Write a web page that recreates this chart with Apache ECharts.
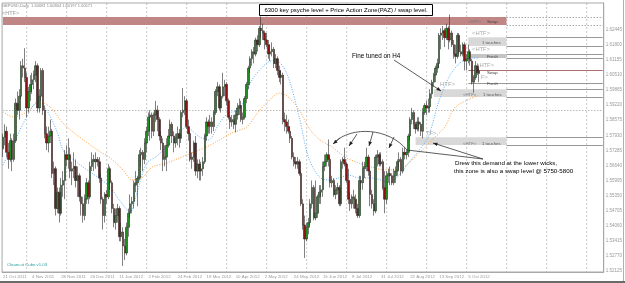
<!DOCTYPE html>
<html><head><meta charset="utf-8">
<script src="https://cdn.jsdelivr.net/npm/echarts@6/dist/echarts.min.js"></script>
<style>html,body{margin:0;padding:0;background:#fff;}#c{width:625px;height:283px;}</style>
</head><body><div id="c"></div>
<script>
// ---- data ----
const dateLabels = ["21 Oct 2011","4 Nov 2011","28 Nov 2011","20 Dec 2011","11 Jan 2012","2 Feb 2012","24 Feb 2012","19 Mar 2012","10 Apr 2012","2 May 2012","24 May 2012","15 Jun 2012","9 Jul 2012","31 Jul 2012","22 Aug 2012","13 Sep 2012","5 Oct 2012"];
const priceTicks = [1.62445,1.61800,1.61155,1.60510,1.59865,1.59220,1.58575,1.57930,1.57285,1.56640,1.55995,1.55350,1.54705,1.54060,1.53415,1.52770,1.52125];
const markedLevels = [1.62985,1.62650,1.60571,1.59000];
// [open, close, low, high]
const candles = [
[1.5735,1.5785,1.5700,1.5800],[1.5785,1.5810,1.5750,1.5840],[1.5810,1.5720,1.5700,1.5830],[1.5720,1.5690,1.5650,1.5760],[1.5690,1.5770,1.5680,1.5800],
[1.5770,1.5690,1.5640,1.5780],[1.5690,1.5770,1.5680,1.5800],[1.5770,1.5930,1.5760,1.5950],[1.5930,1.5900,1.5880,1.5980],[1.5900,1.5960,1.5860,1.5990],
[1.5960,1.6090,1.5950,1.6110],[1.6090,1.6080,1.6040,1.6120],[1.6080,1.6040,1.6020,1.6165],[1.6040,1.5910,1.5870,1.6060],[1.5910,1.5980,1.5890,1.6000],
[1.5980,1.6010,1.5940,1.6050],[1.6010,1.6030,1.5970,1.6060],[1.6030,1.6050,1.5990,1.6070],[1.6050,1.6090,1.6020,1.6110],[1.6090,1.5910,1.5890,1.6100],
[1.5910,1.5960,1.5890,1.5990],[1.5960,1.6070,1.5940,1.6080],[1.6070,1.5900,1.5880,1.6080],[1.5900,1.5800,1.5780,1.5920],[1.5800,1.5760,1.5730,1.5830],
[1.5760,1.5790,1.5720,1.5830],[1.5790,1.5810,1.5760,1.5860],[1.5810,1.5630,1.5610,1.5820],[1.5630,1.5650,1.5580,1.5680],[1.5650,1.5480,1.5450,1.5660],
[1.5480,1.5550,1.5460,1.5570],[1.5550,1.5460,1.5420,1.5570],[1.5460,1.5580,1.5450,1.5610],[1.5580,1.5600,1.5530,1.5640],[1.5600,1.5710,1.5520,1.5730],
[1.5710,1.5690,1.5660,1.5750],[1.5690,1.5710,1.5650,1.5780],[1.5710,1.5640,1.5610,1.5740],[1.5640,1.5650,1.5580,1.5680],[1.5650,1.5660,1.5610,1.5720],
[1.5660,1.5600,1.5570,1.5690],[1.5600,1.5620,1.5530,1.5660],[1.5620,1.5530,1.5510,1.5630],[1.5530,1.5500,1.5450,1.5560],[1.5500,1.5450,1.5420,1.5530],
[1.5450,1.5520,1.5430,1.5540],[1.5520,1.5590,1.5500,1.5610],[1.5590,1.5530,1.5500,1.5600],[1.5530,1.5660,1.5520,1.5680],[1.5660,1.5690,1.5640,1.5720],
[1.5690,1.5680,1.5640,1.5710],[1.5680,1.5690,1.5650,1.5720],[1.5690,1.5680,1.5660,1.5700],[1.5680,1.5610,1.5590,1.5700],[1.5610,1.5520,1.5500,1.5630],
[1.5520,1.5450,1.5390,1.5530],[1.5450,1.5540,1.5420,1.5550],[1.5540,1.5530,1.5500,1.5560],[1.5530,1.5650,1.5520,1.5670],[1.5650,1.5590,1.5560,1.5660],
[1.5590,1.5480,1.5460,1.5600],[1.5480,1.5420,1.5400,1.5500],[1.5420,1.5450,1.5390,1.5480],[1.5450,1.5480,1.5420,1.5500],[1.5480,1.5360,1.5340,1.5490],
[1.5360,1.5380,1.5340,1.5420],[1.5380,1.5320,1.5235,1.5400],[1.5320,1.5290,1.5260,1.5350],[1.5290,1.5400,1.5280,1.5420],[1.5400,1.5460,1.5360,1.5480],
[1.5460,1.5500,1.5440,1.5540],[1.5500,1.5510,1.5460,1.5530],[1.5510,1.5580,1.5480,1.5600],[1.5580,1.5590,1.5550,1.5640],[1.5590,1.5610,1.5490,1.5620],
[1.5610,1.5710,1.5600,1.5730],[1.5710,1.5720,1.5660,1.5740],[1.5720,1.5690,1.5640,1.5730],[1.5690,1.5760,1.5670,1.5780],[1.5760,1.5810,1.5720,1.5830],
[1.5810,1.5870,1.5790,1.5890],[1.5870,1.5880,1.5770,1.5900],[1.5880,1.5810,1.5780,1.5890],[1.5810,1.5880,1.5790,1.5890],[1.5880,1.5900,1.5850,1.5940],
[1.5900,1.5860,1.5810,1.5920],[1.5860,1.5790,1.5770,1.5870],[1.5790,1.5760,1.5730,1.5810],[1.5760,1.5690,1.5640,1.5780],[1.5690,1.5700,1.5660,1.5750],
[1.5700,1.5750,1.5640,1.5780],[1.5750,1.5790,1.5740,1.5820],[1.5790,1.5840,1.5780,1.5860],[1.5840,1.5790,1.5760,1.5850],[1.5790,1.5760,1.5720,1.5810],
[1.5760,1.5780,1.5740,1.5800],[1.5780,1.5800,1.5750,1.5830],[1.5800,1.5780,1.5740,1.5820],[1.5780,1.5890,1.5760,1.5900],[1.5890,1.5900,1.5870,1.5995],
[1.5900,1.5940,1.5880,1.5960],[1.5940,1.5830,1.5820,1.5950],[1.5830,1.5800,1.5770,1.5860],[1.5800,1.5690,1.5680,1.5810],[1.5690,1.5700,1.5650,1.5720],
[1.5700,1.5760,1.5680,1.5770],[1.5760,1.5640,1.5620,1.5790],[1.5640,1.5670,1.5610,1.5690],[1.5670,1.5640,1.5600,1.5690],[1.5640,1.5650,1.5600,1.5680],
[1.5650,1.5680,1.5620,1.5700],[1.5680,1.5790,1.5670,1.5800],[1.5790,1.5850,1.5770,1.5870],[1.5850,1.5830,1.5800,1.5860],[1.5830,1.5850,1.5800,1.5880],
[1.5850,1.5830,1.5800,1.5870],[1.5830,1.5890,1.5810,1.5900],[1.5890,1.5980,1.5880,1.5990],[1.5980,1.6000,1.5960,1.6020],[1.6000,1.5910,1.5900,1.6010],
[1.5910,1.5960,1.5890,1.5970],[1.5960,1.6000,1.5950,1.6060],[1.6000,1.6010,1.5960,1.6030],[1.6010,1.5940,1.5920,1.6020],[1.5940,1.5870,1.5860,1.5950],
[1.5870,1.5850,1.5820,1.5880],[1.5850,1.5860,1.5830,1.5880],[1.5860,1.5840,1.5820,1.5880],[1.5840,1.5880,1.5805,1.5900],[1.5880,1.5910,1.5860,1.5930],
[1.5910,1.5920,1.5880,1.5950],[1.5920,1.5860,1.5850,1.5940],[1.5860,1.5870,1.5840,1.5890],[1.5870,1.5950,1.5860,1.5960],[1.5950,1.6010,1.5930,1.6020],
[1.6010,1.6080,1.5990,1.6090],[1.6080,1.6120,1.6060,1.6130],[1.6120,1.6150,1.6090,1.6160],[1.6150,1.6140,1.6100,1.6170],[1.6140,1.6200,1.6130,1.6210],
[1.6200,1.6180,1.6150,1.6220],[1.6180,1.6250,1.6170,1.6260],[1.6250,1.6240,1.6210,1.6301],[1.6240,1.6230,1.6200,1.6270],[1.6230,1.6200,1.6160,1.6240],
[1.6200,1.6180,1.6170,1.6230],[1.6180,1.6140,1.6120,1.6200],[1.6140,1.6150,1.6110,1.6180],[1.6150,1.6160,1.6130,1.6190],[1.6160,1.6100,1.6080,1.6170],
[1.6100,1.6120,1.6080,1.6140],[1.6120,1.6070,1.6050,1.6130],[1.6070,1.6040,1.6020,1.6090],[1.6040,1.6050,1.6010,1.6070],[1.6050,1.5860,1.5840,1.6060],
[1.5860,1.5850,1.5810,1.5890],[1.5850,1.5830,1.5800,1.5880],[1.5830,1.5810,1.5800,1.5860],[1.5810,1.5780,1.5760,1.5830],[1.5780,1.5700,1.5690,1.5790],
[1.5700,1.5680,1.5660,1.5720],[1.5680,1.5670,1.5650,1.5700],[1.5670,1.5680,1.5650,1.5700],[1.5680,1.5630,1.5620,1.5690],[1.5630,1.5500,1.5490,1.5640],
[1.5500,1.5410,1.5390,1.5520],[1.5410,1.5350,1.5269,1.5450],[1.5350,1.5400,1.5340,1.5420],[1.5400,1.5420,1.5370,1.5440],[1.5420,1.5500,1.5410,1.5520],
[1.5500,1.5570,1.5480,1.5600],[1.5570,1.5440,1.5430,1.5580],[1.5440,1.5460,1.5430,1.5600],[1.5460,1.5530,1.5440,1.5540],[1.5530,1.5550,1.5500,1.5580],
[1.5550,1.5560,1.5500,1.5580],[1.5560,1.5660,1.5530,1.5680],[1.5660,1.5680,1.5640,1.5710],[1.5680,1.5710,1.5660,1.5720],[1.5710,1.5690,1.5660,1.5775],
[1.5690,1.5590,1.5570,1.5700],[1.5590,1.5600,1.5570,1.5620],[1.5600,1.5540,1.5530,1.5610],[1.5540,1.5560,1.5520,1.5580],[1.5560,1.5570,1.5540,1.5590],
[1.5570,1.5500,1.5490,1.5580],[1.5500,1.5680,1.5490,1.5690],[1.5680,1.5690,1.5650,1.5700],[1.5690,1.5670,1.5660,1.5740],[1.5670,1.5600,1.5590,1.5680],
[1.5600,1.5520,1.5500,1.5650],[1.5520,1.5500,1.5470,1.5550],[1.5500,1.5530,1.5480,1.5540],[1.5530,1.5520,1.5480,1.5560],[1.5520,1.5480,1.5460,1.5540],
[1.5480,1.5450,1.5440,1.5500],[1.5450,1.5600,1.5440,1.5620],[1.5600,1.5590,1.5560,1.5620],[1.5590,1.5650,1.5560,1.5680],[1.5650,1.5660,1.5610,1.5680],
[1.5660,1.5700,1.5640,1.5740],[1.5700,1.5640,1.5620,1.5710],[1.5640,1.5540,1.5490,1.5650],[1.5540,1.5500,1.5480,1.5560],[1.5500,1.5470,1.5450,1.5520],
[1.5470,1.5700,1.5460,1.5710],[1.5700,1.5710,1.5660,1.5730],[1.5710,1.5670,1.5660,1.5720],[1.5670,1.5680,1.5660,1.5720],[1.5680,1.5570,1.5560,1.5690],
[1.5570,1.5520,1.5460,1.5640],[1.5520,1.5620,1.5500,1.5640],[1.5620,1.5630,1.5590,1.5650],[1.5630,1.5620,1.5580,1.5660],[1.5620,1.5590,1.5580,1.5630],
[1.5590,1.5620,1.5580,1.5650],[1.5620,1.5640,1.5590,1.5660],[1.5640,1.5680,1.5620,1.5690],[1.5680,1.5690,1.5650,1.5720],[1.5690,1.5640,1.5620,1.5700],
[1.5640,1.5720,1.5630,1.5740],[1.5720,1.5710,1.5690,1.5740],[1.5710,1.5720,1.5690,1.5730],[1.5720,1.5790,1.5700,1.5800],[1.5790,1.5860,1.5770,1.5870],
[1.5860,1.5890,1.5840,1.5910],[1.5890,1.5840,1.5820,1.5900],[1.5840,1.5820,1.5800,1.5850],[1.5820,1.5850,1.5810,1.5870],[1.5850,1.5840,1.5810,1.5870],
[1.5840,1.5810,1.5790,1.5850],[1.5810,1.5890,1.5780,1.5910],[1.5890,1.5920,1.5880,1.5930],[1.5920,1.5910,1.5880,1.5940],[1.5910,1.5915,1.5890,1.5950],
[1.5915,1.5970,1.5890,1.5990],[1.5970,1.6020,1.5950,1.6030],[1.6020,1.6050,1.6000,1.6060],[1.6050,1.6080,1.6020,1.6090],[1.6080,1.6100,1.6060,1.6120],
[1.6100,1.6220,1.6080,1.6230],[1.6220,1.6230,1.6160,1.6250],[1.6230,1.6240,1.6200,1.6260],[1.6240,1.6210,1.6170,1.6250],[1.6210,1.6250,1.6200,1.6270],
[1.6250,1.6200,1.6160,1.6260],[1.6200,1.6230,1.6190,1.6309],[1.6230,1.6180,1.6170,1.6240],[1.6180,1.6140,1.6120,1.6200],[1.6140,1.6130,1.6100,1.6180],
[1.6130,1.6220,1.6120,1.6230],[1.6220,1.6150,1.6140,1.6230],[1.6150,1.6140,1.6130,1.6180],[1.6140,1.6180,1.6130,1.6190],[1.6180,1.6110,1.6070,1.6190],
[1.6110,1.6120,1.6070,1.6140],[1.6120,1.6150,1.6100,1.6180],[1.6150,1.6110,1.6090,1.6160],[1.6110,1.6020,1.6010,1.6120],[1.6020,1.6040,1.5975,1.6050],
[1.6040,1.6090,1.6030,1.6110],[1.6090,1.6060,1.6050,1.6100],[1.60681,1.60571,1.60197,1.60804]
];
// moving averages: [bar index, price]
const fastMA = [[0,1.5666],[6,1.5760],[13,1.5871],[19,1.5935],[24,1.5901],[30,1.5803],[33,1.5730],[39,1.5687],[44,1.5657],[52,1.5615],[59,1.5572],[64,1.5516],[70,1.5465],[73,1.5529],[79,1.5674],[84,1.5700],[90,1.5743],[95,1.5786],[101,1.5828],[108,1.5786],[113,1.5773],[119,1.5845],[124,1.5888],[130,1.5901],[137,1.6029],[145,1.6101],[150,1.6114],[156,1.6059],[163,1.5871],[168,1.5700],[174,1.5615],[179,1.5602],[185,1.5611],[190,1.5623],[196,1.5611],[202,1.5611],[208,1.5602],[212,1.5590],[218,1.5623],[223,1.5674],[229,1.5730],[234,1.5786],[240,1.5943],[246,1.6050],[252,1.6106],[258,1.6123],[262,1.6123]];
const slowMA = [[0,1.5892],[6,1.5871],[13,1.5892],[20,1.5935],[26,1.5914],[33,1.5845],[42,1.5786],[52,1.5730],[59,1.5696],[66,1.5645],[71,1.5602],[77,1.5615],[82,1.5657],[90,1.5674],[97,1.5696],[104,1.5718],[112,1.5743],[119,1.5773],[126,1.5803],[134,1.5828],[140,1.5888],[145,1.5931],[152,1.5973],[157,1.5956],[163,1.5901],[168,1.5828],[174,1.5775],[181,1.5743],[188,1.5700],[196,1.5674],[203,1.5657],[210,1.5645],[216,1.5645],[222,1.5666],[229,1.5718],[236,1.5773],[243,1.5828],[249,1.5914],[262,1.5965]];
// zones: top price, bottom price, first bar, last bar
const zoneTop    = [1.6298,1.6212,1.6140,1.5990,1.5785];
const zoneBottom = [1.6264,1.6174,1.6123,1.5956,1.5751];
const zoneStart  = [0,256,256,237,227];
const zoneEnd    = 277;
const singleLevels = [1.6072,1.6017];  // swap / fresh lines
const levelStart = 256;
const TOTAL_SLOTS = 331;

// ---- build ----
const cats = [];
for (let i = 0; i < TOTAL_SLOTS; i++) cats.push(String(i));
const FONT = 'Liberation Sans';
const lastSlot = TOTAL_SLOTS - 1;

const areas = zoneTop.map((t, k) => {
  const band = k === 0;
  return [{xAxis: zoneStart[k], yAxis: t, itemStyle: {color: band ? '#c08585' : (k === 2 ? '#c4c4c4' : '#d8d8d8')}},
          {xAxis: zoneEnd, yAxis: zoneBottom[k]}];
});
const lines = [];
zoneTop.forEach((t, k) => {
  [t, zoneBottom[k]].forEach(p => {
    lines.push([{xAxis: zoneEnd, yAxis: p, lineStyle: {color: k === 0 ? '#aaa' : '#999', type: k === 0 ? [1.5, 1.5] : 'solid', width: 1}}, {xAxis: lastSlot, yAxis: p}]);
  });
});
singleLevels.forEach((p, k) => {
  lines.push([{xAxis: levelStart, yAxis: p, lineStyle: {color: k === 0 ? '#b07070' : '#999', type: 'solid', width: 1}}, {xAxis: lastSlot, yAxis: p}]);
});
lines.push([{xAxis: 0, yAxis: markedLevels[3], lineStyle: {color: '#bbb', type: [1.5, 1.5], width: 1}}, {xAxis: lastSlot, yAxis: markedLevels[3]}]);

const levelMarks = markedLevels.map(v => ({
  yAxis: v,
  lineStyle: {opacity: 0},
  label: {show: true, position: 'end', formatter: v.toFixed(5), fontSize: 4.5, fontFamily: FONT, color: '#444', backgroundColor: '#bdbdbd', padding: [1, 1], distance: 1}
}));

function arrow(x1, y1, x2, y2) {
  const a = Math.atan2(y2 - y1, x2 - x1), L = 4.5, W = 1.8;
  const bx = x2 - L * Math.cos(a), by = y2 - L * Math.sin(a);
  return [
    {type: 'line', shape: {x1, y1, x2, y2}, style: {stroke: '#333', lineWidth: 0.8}, z: 100},
    {type: 'polygon', shape: {points: [[x2, y2], [bx - W * Math.sin(a), by + W * Math.cos(a)], [bx + W * Math.sin(a), by - W * Math.cos(a)]]}, style: {fill: '#222'}, z: 100}
  ];
}
function txt(x, y, s, size, color, extra) {
  return Object.assign({type: 'text', x, y, z: 100, style: {text: s, fontSize: size, fontFamily: FONT, fill: color, verticalAlign: 'middle'}}, extra || {});
}

const graphics = [];
// vertical grid
for (let gx = 26.7; gx < 607; gx += 40) {
  graphics.push({type: 'line', shape: {x1: gx, y1: 3, x2: gx, y2: 272}, style: {stroke: '#c8c8c8', lineWidth: 1, lineDash: [2, 2]}, z: -1});
}
graphics.push(
  {type: 'rect', shape: {x: 0, y: 281, width: 625, height: 2}, style: {fill: '#6a6a6a'}},
  {type: 'line', shape: {x1: 623.5, y1: 0, x2: 623.5, y2: 281}, style: {stroke: '#b0b0b0', lineWidth: 1}},
  txt(2, 6, 'GBPUSD,Daily  1.60681 1.60804 1.60197 1.60571', 4, '#888'),
  txt(2, 13, '<HTF>', 5.5, '#999'),
  txt(7, 264.5, 'Cleancut Cube v1.03', 4.3, '#2a9fa0'),
  {type: 'rect', z: 100, shape: {x: 259.5, y: 4.5, width: 173, height: 11}, style: {fill: '#fff', stroke: '#000', lineWidth: 1}},
  txt(346, 10.2, '6300 key psyche level + Price Action Zone(PAZ) / swap level.', 6, '#000', {style: {text: '6300 key psyche level + Price Action Zone(PAZ) / swap level.', fontSize: 6, fontFamily: FONT, fill: '#000', verticalAlign: 'middle', align: 'center'}}),
  txt(352, 56, 'Fine tuned on H4', 6.3, '#000'),
  txt(455, 163, 'Drew this demand at the lower wicks,', 6.2, '#000'),
  txt(454, 171.5, 'this zone is also a swap level @ 5750-5800', 6.2, '#000'),
  // zone labels
  txt(468, 22, '<HTF>', 4.3, '#777'), txt(487, 22, 'Swap', 4.3, '#444'),
  txt(472, 33.5, '<HTF>', 5.8, '#aaa'), txt(482, 43, '1 touches', 4.3, '#555'),
  txt(472, 49.5, '<HTF>', 5.8, '#aaa'), txt(487, 57, 'Fresh', 4.3, '#444'),
  txt(476, 65.5, '<HTF>', 5.8, '#aaa'), txt(487, 73, 'Swap', 4.3, '#444'),
  txt(481, 77.5, 'F>', 5.8, '#aaa'), txt(487, 84, 'Fresh', 4.3, '#444'),
  txt(440, 84, 'HTF>', 6, '#aaa'), txt(463, 95, '<HTF>', 4.3, '#777'), txt(483, 95, '1 touches', 4.3, '#555'),
  txt(426, 133, 'TF>', 5.8, '#aaa'), txt(463, 144, '<HTF>', 4.3, '#777'), txt(482, 144, '1 touches', 4.3, '#555'),
  // arc over the swap highs
  {type: 'bezierCurve', z: 100, shape: {x1: 336, y1: 141, cpx1: 352, cpy1: 127, cpx2: 388, cpy2: 127, x2: 407, y2: 150}, style: {stroke: '#333', lineWidth: 0.8, fill: null}},
  {type: 'line', z: 100, shape: {x1: 407, y1: 150, x2: 483, y2: 159}, style: {stroke: '#333', lineWidth: 0.8}}
);
graphics.push(...arrow(340, 138, 333, 144));
graphics.push(...arrow(357, 134, 349, 146));
graphics.push(...arrow(373, 132, 369, 146));
graphics.push(...arrow(394, 137, 389, 148));
graphics.push(...arrow(483, 159, 433, 143));
graphics.push(...arrow(394, 60, 441, 91));

const option = {
  animation: false,
  backgroundColor: '#fff',
  grid: {left: 2, right: 18, top: 3, bottom: 11, show: true, borderColor: '#a8a8a8', borderWidth: 1},
  xAxis: {
    type: 'category', data: cats, boundaryGap: true,
    axisLine: {show: true, lineStyle: {color: '#a8a8a8'}},
    axisTick: {show: false}, splitLine: {show: false},
    axisLabel: {
      interval: (idx) => idx % 16 === 0 && idx / 16 < dateLabels.length,
      formatter: (v, idx) => dateLabels[idx / 16] || '',
      fontSize: 4.4, fontFamily: FONT, color: '#999', align: 'left', margin: 3
    }
  },
  yAxis: {
    type: 'value', position: 'right', min: 1.5209, max: 1.6358, scale: true,
    axisLine: {show: true, lineStyle: {color: '#a8a8a8'}},
    axisTick: {show: false}, splitLine: {show: false},
    axisLabel: {customValues: priceTicks, formatter: v => v.toFixed(5), fontSize: 4.5, fontFamily: FONT, color: '#999', margin: 2}
  },
  series: [
    {
      type: 'candlestick', data: candles, barWidth: 2,
      itemStyle: {color: '#1e8c1e', color0: '#8a1212', borderColor: '#2b2b2b', borderColor0: '#2b2b2b', borderWidth: 0.6},
      markArea: {silent: true, data: areas},
      markLine: {silent: true, symbol: 'none', label: {show: false}, data: lines.concat(levelMarks)},
      z: 5
    },
    {type: 'line', data: fastMA, smooth: 0.3, symbol: 'none', lineStyle: {color: '#5aaeff', width: 1, type: [1, 1.5]}, z: 4},
    {type: 'line', data: slowMA, smooth: 0.3, symbol: 'none', lineStyle: {color: '#ffa040', width: 1, type: [1, 1.5]}, z: 4}
  ],
  graphic: graphics
};
const chart = echarts.init(document.getElementById('c'), null, {renderer: 'canvas'});
chart.setOption(option);
</script></body></html>
